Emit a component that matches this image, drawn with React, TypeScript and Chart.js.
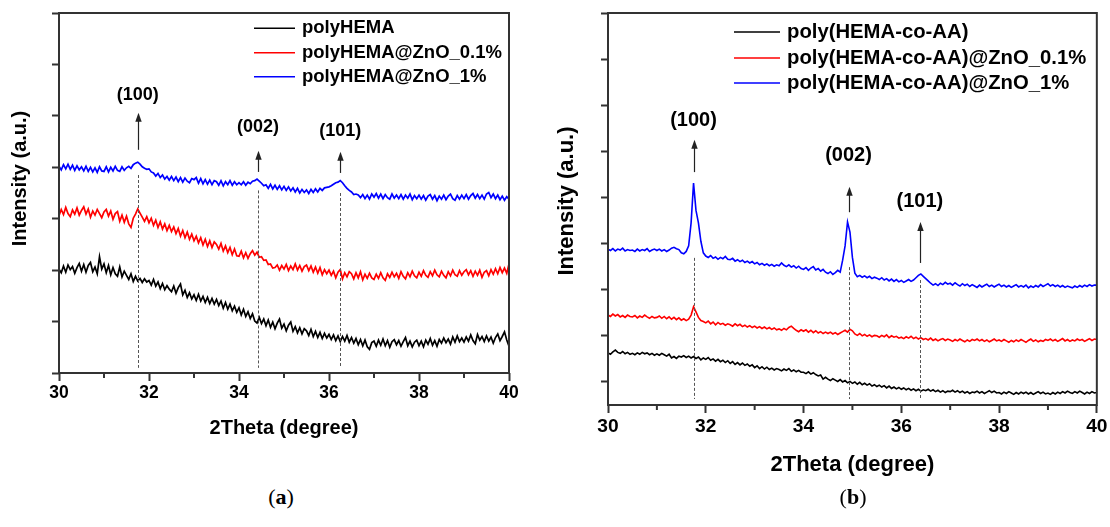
import React, { useEffect, useRef } from 'react';
import { Chart, registerables } from 'chart.js';

Chart.register(...registerables);

// ---------- data ----------
const TWO_THETA = Array.from({ length: 201 }, (_, i) => Math.round((30 + i * 0.05) * 100) / 100);

const X_TICKS = [30, 32, 34, 36, 38, 40];
const X_MINOR = [31, 33, 35, 37, 39];
const X_TITLE = '2Theta (degree)';
const Y_TITLE = 'Intensity (a.u.)';
const PEAK_NAMES = ['(100)', '(002)', '(101)'];
const SERIES_COLORS = ['#000000', '#ff0000', '#0000ff'];

// panel (a)
const A_LABELS = ['polyHEMA', 'polyHEMA@ZnO_0.1%', 'polyHEMA@ZnO_1%'];
const A_BLACK = [
  2.02, 1.95, 2.08, 1.96, 2.1, 2.01, 2.07, 1.94, 2.05, 2.13,
  1.98, 2.11, 1.96, 2.09, 2.15, 1.97, 2.06, 1.93, 2.26, 2.02,
  2.12, 1.95, 2.09, 1.91, 2.05, 1.93, 1.88, 2.06, 1.87, 1.98,
  1.9, 1.82, 1.93, 1.78, 1.88, 1.79, 1.84, 1.76, 1.83, 1.77,
  1.8, 1.71, 1.82, 1.69, 1.77, 1.64, 1.74, 1.62, 1.7, 1.63,
  1.58, 1.69, 1.55, 1.66, 1.73, 1.52, 1.61, 1.47, 1.56, 1.44,
  1.52, 1.41, 1.53, 1.4, 1.49, 1.37, 1.47, 1.35, 1.45, 1.34,
  1.43, 1.31, 1.4, 1.26, 1.37, 1.24, 1.34, 1.21, 1.3, 1.18,
  1.27, 1.13, 1.24, 1.1, 1.19, 1.06, 1.15, 1.01, 0.97, 1.08,
  0.96, 1.05, 0.92, 1.03, 0.89, 0.99, 0.86, 0.97, 1.05, 0.87,
  0.95, 0.82, 0.93, 0.99, 0.81, 0.9, 0.78, 0.88, 0.76, 0.86,
  0.82, 0.73, 0.85, 0.71, 0.81, 0.69, 0.79, 0.67, 0.77, 0.68,
  0.75, 0.65, 0.74, 0.63, 0.72, 0.61, 0.71, 0.62, 0.73, 0.6,
  0.69, 0.58, 0.67, 0.55, 0.65, 0.53, 0.64, 0.51, 0.46, 0.59,
  0.62, 0.52, 0.64, 0.54, 0.66, 0.53, 0.63, 0.5, 0.61, 0.65,
  0.55, 0.63, 0.52, 0.61, 0.69, 0.53, 0.62, 0.51, 0.6, 0.64,
  0.53, 0.62, 0.51, 0.64, 0.56, 0.67, 0.54, 0.63, 0.52, 0.65,
  0.58, 0.68, 0.59, 0.66, 0.56, 0.7, 0.6, 0.72, 0.61, 0.68,
  0.6, 0.7, 0.62, 0.74, 0.63, 0.57, 0.75, 0.64, 0.71, 0.61,
  0.72, 0.62, 0.7, 0.58, 0.69, 0.76, 0.63, 0.71, 0.8, 0.64,
  0.52,
];
const A_RED = [
  3.06, 3.18, 3.08, 3.22, 3.1, 3.04, 3.17, 3.09, 3.21, 3.07,
  3.16, 3.23, 3.09, 3.19, 3.03, 3.15, 3.07, 3.18, 3.1, 3.02,
  3.13, 3.18, 3.05, 3.15, 2.99, 3.1, 3.14, 2.95, 3.07, 2.93,
  3.05, 2.9, 2.83, 3.01, 3.09, 3.19, 3.11, 3.03, 2.95, 3.04,
  2.92, 3.01, 2.87, 2.97, 2.83, 2.94, 2.8, 2.9, 2.77, 2.87,
  2.75, 2.84, 2.71, 2.81, 2.66, 2.77, 2.63, 2.74, 2.6, 2.7,
  2.57, 2.66, 2.53, 2.63, 2.49, 2.6, 2.46, 2.57, 2.44, 2.55,
  2.5, 2.41, 2.52, 2.37, 2.47, 2.34, 2.44, 2.3, 2.41, 2.28,
  2.27, 2.37, 2.24, 2.34, 2.23, 2.32, 2.38, 2.29, 2.35, 2.25,
  2.26, 2.19, 2.2, 2.11, 2.12, 2.04, 2.05, 2.1, 2.0, 2.09,
  2.02, 2.11, 1.99, 2.08, 2.01, 2.12, 2.0, 2.09, 1.98, 2.07,
  2.1, 1.99, 2.08, 1.96, 2.06, 1.94, 2.05, 1.91, 2.01, 1.93,
  2.0, 1.9, 1.98, 1.85, 1.96, 2.01, 1.83, 1.95, 1.87, 1.97,
  1.93, 1.83, 1.95, 1.85, 1.97, 1.81, 1.92, 1.84, 1.94, 1.85,
  1.82, 1.92, 1.84, 1.95, 1.85, 1.8, 1.93, 1.86, 1.96, 1.87,
  1.94, 1.84, 1.97, 1.88, 1.83, 1.95, 1.87, 1.98, 1.89, 1.85,
  1.96, 1.88, 1.99, 1.9, 1.86, 1.97, 1.89, 2.0, 1.91, 1.87,
  1.98, 1.9, 1.85, 1.97, 1.89, 2.0, 1.91, 1.88, 1.99, 1.9,
  1.97, 2.01, 1.91, 1.99, 1.88, 1.98, 1.9, 2.0, 1.86, 1.96,
  1.99, 1.89, 2.01, 1.92, 2.03, 1.93, 2.05, 1.95, 2.04, 1.94,
  2.12,
];
const A_BLUE = [
  4.02, 3.95, 4.05, 3.97, 4.06, 3.96, 4.04, 3.94, 4.03, 3.95,
  4.01, 3.93, 4.02, 3.92, 4.0, 3.91, 3.99, 3.9, 4.01, 3.93,
  3.92, 4.01, 3.91, 4.0, 3.93, 4.02, 3.94, 3.92, 4.01, 3.94,
  3.99, 4.02, 3.98, 4.05, 4.08, 4.1, 4.06, 4.01, 3.98, 3.96,
  3.97, 3.91, 3.89, 3.83, 3.88, 3.8, 3.85, 3.77, 3.82, 3.75,
  3.82, 3.74, 3.81, 3.72, 3.8, 3.71, 3.79, 3.73, 3.7, 3.78,
  3.76, 3.8, 3.69, 3.78, 3.68, 3.76, 3.67, 3.75, 3.66, 3.74,
  3.72, 3.65, 3.74, 3.64, 3.72, 3.66, 3.74, 3.65, 3.72, 3.66,
  3.7, 3.66, 3.72, 3.65, 3.71, 3.68, 3.73, 3.74, 3.77, 3.73,
  3.69, 3.64, 3.66, 3.59, 3.67, 3.58, 3.65, 3.57, 3.64, 3.56,
  3.63, 3.55, 3.62, 3.54, 3.6, 3.52, 3.59, 3.5, 3.57, 3.51,
  3.56, 3.49, 3.57, 3.51, 3.58, 3.52, 3.59, 3.55, 3.6, 3.61,
  3.62, 3.64, 3.67, 3.7, 3.71, 3.74, 3.7, 3.64, 3.59, 3.55,
  3.52, 3.47, 3.48, 3.46, 3.41, 3.47, 3.39, 3.46, 3.38, 3.48,
  3.42, 3.49, 3.4, 3.48, 3.39, 3.47, 3.41, 3.38, 3.48, 3.4,
  3.46, 3.39, 3.47, 3.38, 3.46, 3.4, 3.48, 3.37, 3.45, 3.39,
  3.46, 3.38, 3.45, 3.36, 3.44, 3.47, 3.38, 3.45, 3.35, 3.44,
  3.38, 3.46, 3.37, 3.44, 3.48, 3.39, 3.36, 3.45, 3.38, 3.46,
  3.39, 3.47, 3.38, 3.45, 3.49, 3.4, 3.47, 3.39, 3.46, 3.38,
  3.48, 3.51, 3.41, 3.48, 3.39, 3.46, 3.37, 3.44, 3.36, 3.43,
  3.38,
];
const A_Y_TICKS = [0, 1, 2, 3, 4, 5, 6, 7];
const A_PEAK_X = [31.75, 34.42, 36.25];
const A_ARROW_BASE = [4.34, 3.91, 3.89];
const A_ARROW_TIP = [5.06, 4.32, 4.3];
const A_LABEL_Y = [5.41, 4.78, 4.71];
const A_DASH_TOP = [3.85, 3.55, 3.5];

// panel (b)
const B_LABELS = ['poly(HEMA-co-AA)', 'poly(HEMA-co-AA)@ZnO_0.1%', 'poly(HEMA-co-AA)@ZnO_1%'];
const B_BLACK = [
  1.63, 1.6, 1.65, 1.69, 1.64, 1.62, 1.66, 1.61, 1.64, 1.6,
  1.62, 1.59, 1.63, 1.6, 1.64, 1.61, 1.63, 1.59, 1.62, 1.58,
  1.61, 1.58, 1.62, 1.59, 1.56, 1.6, 1.52, 1.55, 1.51, 1.56,
  1.54, 1.57, 1.53, 1.56, 1.52, 1.55, 1.51, 1.54, 1.48, 1.52,
  1.49, 1.53, 1.47, 1.5, 1.45, 1.49, 1.44, 1.47, 1.42, 1.46,
  1.4, 1.44, 1.38, 1.42, 1.37, 1.41, 1.36, 1.39, 1.34, 1.37,
  1.31, 1.35, 1.29, 1.33, 1.28, 1.32, 1.27, 1.3, 1.26, 1.29,
  1.27, 1.24, 1.28, 1.25, 1.29, 1.23, 1.26, 1.22, 1.25, 1.21,
  1.21, 1.18, 1.22, 1.17, 1.2, 1.16, 1.13, 1.15, 1.06, 1.1,
  1.06, 1.03, 1.07, 1.04, 1.01, 1.05, 1.0, 1.03, 0.98, 1.01,
  0.97, 1.0, 0.95, 0.99, 0.94, 0.97, 0.93, 0.96, 0.91, 0.94,
  0.9, 0.93, 0.89, 0.92, 0.87, 0.91, 0.86, 0.89, 0.85, 0.88,
  0.84, 0.87, 0.83, 0.86, 0.82, 0.85, 0.81, 0.84, 0.8, 0.83,
  0.81, 0.84, 0.8, 0.83, 0.79, 0.82, 0.78, 0.81, 0.77, 0.8,
  0.79, 0.82, 0.78, 0.81, 0.77, 0.8, 0.76, 0.79, 0.75, 0.78,
  0.77, 0.8, 0.76, 0.79, 0.75, 0.78, 0.81, 0.77, 0.8, 0.76,
  0.77, 0.74, 0.78, 0.75, 0.79, 0.76, 0.73, 0.77, 0.74, 0.78,
  0.75, 0.78, 0.74, 0.77, 0.73, 0.76, 0.79, 0.75, 0.78, 0.74,
  0.76, 0.73, 0.77, 0.74, 0.78, 0.75, 0.79, 0.76, 0.8, 0.77,
  0.75, 0.79, 0.76, 0.8, 0.77, 0.74, 0.78, 0.75, 0.79, 0.76,
  0.77,
];
const B_RED = [
  2.45, 2.42, 2.47, 2.43, 2.46, 2.41, 2.44, 2.4, 2.45, 2.42,
  2.41, 2.44, 2.39, 2.43, 2.4, 2.45, 2.41, 2.38, 2.42, 2.39,
  2.4, 2.43, 2.38, 2.42, 2.37, 2.41, 2.36, 2.4, 2.35, 2.39,
  2.34, 2.37, 2.33, 2.36, 2.45, 2.63, 2.52, 2.4, 2.33, 2.31,
  2.28, 2.32, 2.26, 2.3, 2.24, 2.29, 2.25, 2.27, 2.23, 2.26,
  2.24, 2.21, 2.26, 2.22, 2.25, 2.2, 2.23, 2.19, 2.22, 2.18,
  2.21, 2.17, 2.2, 2.16, 2.19, 2.15, 2.18, 2.14, 2.17, 2.13,
  2.15, 2.12, 2.16, 2.13, 2.18, 2.21, 2.16, 2.12, 2.09, 2.13,
  2.1, 2.13, 2.08, 2.12, 2.07, 2.11, 2.06, 2.09, 2.05, 2.08,
  2.05, 2.08, 2.04, 2.07, 2.03, 2.06, 2.09, 2.12, 2.08, 2.14,
  2.11, 2.04, 2.01, 2.05, 2.0, 2.03, 1.99, 2.02, 1.98, 2.01,
  2.0, 1.97, 2.01, 1.98, 2.02, 1.96, 2.0, 1.97, 1.99, 1.95,
  1.97, 1.94, 1.98, 1.95, 1.99, 1.94, 1.97, 1.93, 1.96, 1.92,
  1.94, 1.91, 1.95, 1.9, 1.93, 1.89, 1.92, 1.94, 1.9, 1.93,
  1.91, 1.88, 1.92, 1.89, 1.93, 1.9, 1.87, 1.91, 1.88, 1.92,
  1.9, 1.93, 1.89, 1.92, 1.88, 1.91, 1.87, 1.9, 1.93, 1.89,
  1.91, 1.88, 1.92, 1.89, 1.86, 1.9, 1.87, 1.91, 1.88, 1.92,
  1.89, 1.86, 1.9, 1.93, 1.88, 1.91, 1.87, 1.9, 1.88, 1.92,
  1.9, 1.93, 1.89, 1.92, 1.88, 1.91, 1.94, 1.89, 1.92, 1.88,
  1.91, 1.89, 1.93, 1.9, 1.92, 1.88, 1.91, 1.94, 1.9, 1.93,
  1.92,
];
const B_BLUE = [
  3.88, 3.85, 3.89, 3.84, 3.88, 3.86, 3.9, 3.84, 3.87, 3.85,
  3.86, 3.83, 3.88, 3.84, 3.87, 3.85, 3.89, 3.83, 3.86, 3.88,
  3.85, 3.88, 3.84, 3.87, 3.83, 3.86, 3.9, 3.92, 3.89, 3.87,
  3.8, 3.78, 3.83, 3.95, 4.45, 5.31, 4.72, 4.45, 4.05, 3.8,
  3.73, 3.7, 3.74, 3.68, 3.71, 3.66, 3.7, 3.67, 3.72, 3.66,
  3.65, 3.68, 3.62, 3.65, 3.61, 3.64, 3.59, 3.62, 3.58, 3.61,
  3.56, 3.59, 3.54, 3.57, 3.53, 3.56, 3.52, 3.55, 3.51, 3.54,
  3.52, 3.58, 3.53, 3.5, 3.54, 3.49, 3.52, 3.47, 3.51, 3.46,
  3.44, 3.48, 3.42, 3.47, 3.5, 3.43, 3.46, 3.4, 3.44, 3.38,
  3.35, 3.39, 3.33, 3.37, 3.42, 3.38, 3.64, 3.95, 4.47, 4.25,
  3.7, 3.36, 3.28, 3.31, 3.27, 3.3, 3.26, 3.29, 3.24, 3.27,
  3.25, 3.22, 3.26, 3.21, 3.24, 3.19, 3.23, 3.18, 3.22, 3.17,
  3.2, 3.16, 3.19, 3.22, 3.18, 3.21, 3.26, 3.31, 3.34, 3.29,
  3.24, 3.19, 3.14, 3.1, 3.13, 3.09, 3.14, 3.11, 3.16, 3.12,
  3.14, 3.1, 3.15, 3.11, 3.08, 3.13, 3.09, 3.12, 3.07, 3.11,
  3.08, 3.05, 3.1, 3.06, 3.09, 3.12, 3.07, 3.1, 3.06, 3.09,
  3.12, 3.07, 3.1, 3.06, 3.09, 3.05, 3.08, 3.11, 3.06, 3.09,
  3.06, 3.1, 3.04, 3.08, 3.05, 3.09, 3.06, 3.11, 3.07, 3.1,
  3.13, 3.08, 3.11, 3.07, 3.1, 3.06, 3.09, 3.05, 3.08, 3.06,
  3.04, 3.08, 3.05, 3.09, 3.06, 3.1, 3.07, 3.11, 3.08, 3.1,
  3.1,
];
const B_Y_TICKS = [1, 2, 3, 4, 5, 6, 7, 8, 9];
const B_PEAK_X = [31.75, 34.92, 36.38];
const B_ARROW_BASE = [5.55, 4.68, 3.58];
const B_ARROW_TIP = [6.25, 5.23, 4.47];
const B_LABEL_Y = [6.68, 5.9, 4.92];
const B_DASH_TOP = [3.69, 3.49, 3.21];

// ---------- rendering ----------
const FONT = "'Liberation Sans', Arial, Helvetica, sans-serif";
const AXIS_COLOR = '#333333';

type PanelCfg = {
  key: string;
  ox: number; w: number; h: number;
  area: [number, number, number, number];
  yMin: number; yMax: number; yTicks: number[];
  labels: string[]; series: number[][];
  peakX: number[]; arrowBase: number[]; arrowTip: number[]; labelY: number[]; dashTop: number[]; dashBottom: number;
  lineWidth: number;
  tickSize: number; tickPad: number; legendSize: number; annotSize: number; titleSize: number;
  legendLine: [number, number]; legendText: number; legendRows: number[];
  yTitle: [number, number]; xTitleBaseline: number;
};

const PANEL_A: PanelCfg = {
  key: 'a', ox: 0, w: 540, h: 480,
  area: [59, 13, 509, 373],
  yMin: 0, yMax: 7, yTicks: A_Y_TICKS,
  labels: A_LABELS, series: [A_BLACK, A_RED, A_BLUE],
  peakX: A_PEAK_X, arrowBase: A_ARROW_BASE, arrowTip: A_ARROW_TIP, labelY: A_LABEL_Y, dashTop: A_DASH_TOP, dashBottom: 0.1,
  lineWidth: 1.7,
  tickSize: 17.5, tickPad: 2, legendSize: 18.5, annotSize: 18, titleSize: 20,
  legendLine: [254, 295], legendText: 302, legendRows: [28.3, 52.7, 76.7],
  yTitle: [20, 178.5], xTitleBaseline: 433.5,
};

const PANEL_B: PanelCfg = {
  key: 'b', ox: 540, w: 570, h: 500,
  area: [608, 13, 1098, 405],
  yMin: 0.5, yMax: 9, yTicks: B_Y_TICKS,
  labels: B_LABELS, series: [B_BLACK, B_RED, B_BLUE],
  peakX: B_PEAK_X, arrowBase: B_ARROW_BASE, arrowTip: B_ARROW_TIP, labelY: B_LABEL_Y, dashTop: B_DASH_TOP, dashBottom: 0.63,
  lineWidth: 1.6,
  tickSize: 19.2, tickPad: 2.5, legendSize: 20.3, annotSize: 20, titleSize: 22,
  legendLine: [734, 780], legendText: 787, legendRows: [32, 58, 83],
  yTitle: [566.5, 201], xTitleBaseline: 471,
};

function XrdPanel({ cfg }: { cfg: PanelCfg }) {
  const ref = useRef<HTMLCanvasElement>(null);
  useEffect(() => {
    const c = cfg;
    const [aL, aT, aR, aB] = c.area;
    const relL = aL - c.ox;
    const relR = aR - c.ox;
    const decor = {
      id: 'decor_' + c.key,
      afterDatasetsDraw(chart: any) {
        const { ctx, chartArea: ca, scales } = chart;
        const xs = scales.x;
        const ys = scales.y;
        ctx.save();
        // dashed guide lines
        ctx.strokeStyle = '#555555';
        ctx.lineWidth = 1;
        ctx.setLineDash([3, 2]);
        c.peakX.forEach((p, i) => {
          const px = Math.round(xs.getPixelForValue(p)) + 0.5;
          ctx.beginPath();
          ctx.moveTo(px, ys.getPixelForValue(c.dashTop[i]));
          ctx.lineTo(px, ys.getPixelForValue(c.dashBottom));
          ctx.stroke();
        });
        ctx.setLineDash([]);
        // arrows
        ctx.strokeStyle = '#222222';
        ctx.fillStyle = '#222222';
        ctx.lineWidth = 1.2;
        c.peakX.forEach((p, i) => {
          const px = Math.round(xs.getPixelForValue(p)) + 0.5;
          const yb = ys.getPixelForValue(c.arrowBase[i]);
          const yt = ys.getPixelForValue(c.arrowTip[i]);
          ctx.beginPath();
          ctx.moveTo(px, yb);
          ctx.lineTo(px, yt + 6);
          ctx.stroke();
          ctx.beginPath();
          ctx.moveTo(px, yt);
          ctx.lineTo(px - 3.2, yt + 9);
          ctx.lineTo(px + 3.2, yt + 9);
          ctx.closePath();
          ctx.fill();
        });
        // peak labels
        ctx.fillStyle = '#000000';
        ctx.font = `bold ${c.annotSize}px ${FONT}`;
        ctx.textAlign = 'center';
        ctx.textBaseline = 'middle';
        c.peakX.forEach((p, i) => {
          ctx.fillText(PEAK_NAMES[i], xs.getPixelForValue(p), ys.getPixelForValue(c.labelY[i]));
        });
        // frame
        ctx.strokeStyle = AXIS_COLOR;
        ctx.lineWidth = 2;
        ctx.strokeRect(ca.left, ca.top, ca.right - ca.left, ca.bottom - ca.top);
        // minor x ticks
        ctx.beginPath();
        X_MINOR.forEach((v) => {
          const px = xs.getPixelForValue(v);
          ctx.moveTo(px, ca.bottom);
          ctx.lineTo(px, ca.bottom + 5);
        });
        ctx.stroke();
        // legend
        ctx.font = `bold ${c.legendSize}px ${FONT}`;
        ctx.textAlign = 'left';
        ctx.textBaseline = 'middle';
        c.labels.forEach((lab, i) => {
          const yy = c.legendRows[i];
          ctx.strokeStyle = SERIES_COLORS[i];
          ctx.lineWidth = 1.6;
          ctx.beginPath();
          ctx.moveTo(c.legendLine[0] - c.ox, yy);
          ctx.lineTo(c.legendLine[1] - c.ox, yy);
          ctx.stroke();
          ctx.fillStyle = '#000000';
          ctx.fillText(lab, c.legendText - c.ox, yy);
        });
        // axis titles
        ctx.font = `bold ${c.titleSize}px ${FONT}`;
        ctx.fillStyle = '#000000';
        ctx.save();
        ctx.translate(c.yTitle[0] - c.ox, c.yTitle[1]);
        ctx.rotate(-Math.PI / 2);
        ctx.textAlign = 'center';
        ctx.textBaseline = 'middle';
        ctx.fillText(Y_TITLE, 0, 0);
        ctx.restore();
        ctx.textAlign = 'center';
        ctx.textBaseline = 'alphabetic';
        ctx.fillText(X_TITLE, (ca.left + ca.right) / 2, c.xTitleBaseline);
        ctx.restore();
      },
    };
    const chart = new Chart(ref.current as HTMLCanvasElement, {
      type: 'line',
      data: {
        datasets: c.series.map((s, i) => ({
          label: c.labels[i],
          data: TWO_THETA.map((x, k) => ({ x, y: s[k] })),
          borderColor: SERIES_COLORS[i],
          backgroundColor: SERIES_COLORS[i],
          borderWidth: c.lineWidth,
          pointRadius: 0,
          tension: 0,
          fill: false,
        })),
      },
      options: {
        responsive: false,
        animation: false,
        devicePixelRatio: 1,
        events: [],
        layout: { padding: { left: 0, top: aT, right: c.w - relR, bottom: 0 } },
        plugins: { legend: { display: false }, tooltip: { enabled: false } },
        scales: {
          x: {
            type: 'linear',
            min: 30,
            max: 40,
            afterBuildTicks: (ax: any) => {
              ax.ticks = X_TICKS.map((v) => ({ value: v }));
            },
            afterFit: (ax: any) => {
              ax.height = c.h - aB;
            },
            grid: { display: true, drawOnChartArea: false, drawTicks: true, tickLength: 8, tickWidth: 2, tickColor: AXIS_COLOR },
            border: { display: false },
            ticks: {
              autoSkip: false,
              maxRotation: 0,
              padding: c.tickPad,
              color: '#000000',
              font: { family: FONT, size: c.tickSize, weight: 'bold' },
              callback: (v: any) => String(v),
            },
          },
          y: {
            type: 'linear',
            min: c.yMin,
            max: c.yMax,
            afterBuildTicks: (ax: any) => {
              ax.ticks = c.yTicks.map((v) => ({ value: v }));
            },
            afterFit: (ax: any) => {
              ax.width = relL;
            },
            grid: { display: true, drawOnChartArea: false, drawTicks: true, tickLength: 7, tickWidth: 2, tickColor: AXIS_COLOR },
            border: { display: false },
            ticks: { display: false },
          },
        },
      } as any,
      plugins: [decor],
    });
    return () => chart.destroy();
  }, [cfg]);
  return (
    <canvas
      ref={ref}
      width={cfg.w}
      height={cfg.h}
      style={{ position: 'absolute', left: cfg.ox, top: 0, width: cfg.w, height: cfg.h }}
    />
  );
}

const captionStyle = (cx: number): React.CSSProperties => ({
  position: 'absolute',
  left: cx - 50,
  top: 484,
  width: 100,
  textAlign: 'center',
  fontFamily: "'Liberation Serif', 'DejaVu Serif', serif",
  fontSize: 22,
  lineHeight: '26px',
  color: '#000',
});

export default function App() {
  return (
    <div style={{ position: 'absolute', left: 0, top: 0, width: 1110, height: 527, background: '#ffffff', overflow: 'hidden' }}>
      <XrdPanel cfg={PANEL_A} />
      <XrdPanel cfg={PANEL_B} />
      <div style={captionStyle(281)}>(<b>a</b>)</div>
      <div style={captionStyle(853)}>(<b>b</b>)</div>
    </div>
  );
}
